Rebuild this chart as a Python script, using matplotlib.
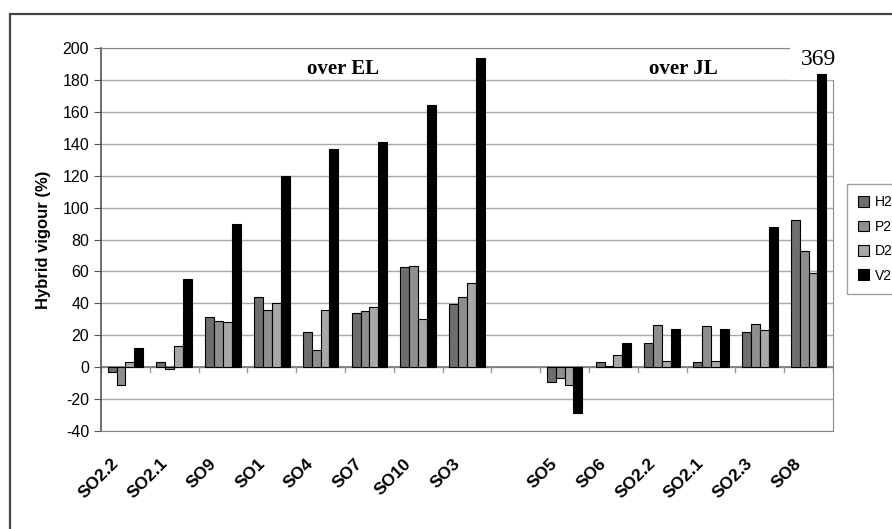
import matplotlib.pyplot as plt
import matplotlib.transforms as mtransforms
from matplotlib.patches import Rectangle
import numpy as np

plt.rcParams['font.family'] = ['Liberation Sans', 'DejaVu Sans']
plt.rcParams['axes.unicode_minus'] = False

# categories (blank slot separates the two groups)
lines = ['SO2.2', 'SO2.1', 'SO9', 'SO1', 'SO4', 'SO7', 'SO10', 'SO3', '',
         'SO5', 'SO6', 'SO2.2', 'SO2.1', 'SO2.3', 'SO8']

h2 = [-3, 3.5, 31.5, 44, 22, 34, 62.5, 39.5, np.nan, -9, 3, 15, 3.5, 22, 92]
p2 = [-11, -1, 29, 36, 11, 35.5, 63.5, 44, np.nan, -7, 1, 26.5, 25.5, 27, 73]
d2 = [3.5, 13, 28.5, 40, 36, 38, 30, 53, np.nan, -11, 7.5, 4, 4, 23, 59]
v2 = [12, 55, 90, 120, 136.5, 141, 164, 194, np.nan, -28.5, 15, 24, 24, 88, 369]
v2_cap = 184   # bars above the axis are drawn cut short, value written above

series = {'H2': h2, 'P2': p2, 'D2': d2, 'V2': v2}
colors = {'H2': '#6e6e6e', 'P2': '#8e8e8e', 'D2': '#a8a8a8', 'V2': '#000000'}

fig = plt.figure(figsize=(8.92, 5.29), dpi=100)
ax = fig.add_axes([101/892, 1 - 431/529, 732/892, 383/529])

x = np.arange(len(lines))
w = 1 / 5.5
for k, (name, vals) in enumerate(series.items()):
    vals = np.array(vals, dtype=float)
    shown = np.where(vals > 200, v2_cap, vals)
    ax.bar(x + (k - 1.5) * w, shown, width=w, color=colors[name],
           edgecolor='black', linewidth=0.8, label=name, zorder=3)

ax.set_xlim(-0.5, len(lines) - 0.5)
ax.set_ylim(-40, 200)
ax.set_yticks(np.arange(-40, 201, 20))
ax.tick_params(axis='y', labelsize=11.5, length=5, color='#555555')
ax.yaxis.grid(True, color='#a8a8a8', linewidth=1)
ax.set_axisbelow(True)
ax.set_ylabel('Hybrid vigour (%)', fontsize=12, fontweight='bold', labelpad=8)

# category axis runs along zero with ticks between categories
ax.axhline(0, color='#777777', linewidth=1.2, zorder=2)
for b in np.arange(-0.5, len(lines), 1.0):
    ax.plot([b, b], [0, -3], color='#999999', linewidth=1, zorder=2)

ax.set_xticks(x)
ax.set_xticklabels(lines, rotation=45, ha='right', va='top',
                   fontsize=12.5, fontweight='bold')
ax.tick_params(axis='x', length=0, pad=18)
offset = mtransforms.ScaledTranslation(-4/100, 0, fig.dpi_scale_trans)
for lab in ax.get_xticklabels():
    lab.set_transform(lab.get_transform() + offset)

for side in ['top', 'right', 'bottom']:
    ax.spines[side].set_color('#888888')
ax.spines['left'].set_color('#555555')
ax.spines['left'].set_linewidth(1.2)

fig.text(343/892, 1 - 69/529, 'over EL', family='Liberation Serif',
         fontweight='bold', fontsize=15, ha='center', va='center')
fig.text(683/892, 1 - 69/529, 'over JL', family='Liberation Serif',
         fontweight='bold', fontsize=15, ha='center', va='center')
# white box hides the frame around the value, sits under the bars
ax.text(x[-1] + 1.5 * w - 0.08, v2_cap + 2.5, '369', family='Liberation Serif',
        fontsize=17, ha='center', va='bottom', clip_on=False, zorder=2.8,
        bbox=dict(facecolor='white', edgecolor='none',
                  boxstyle='square,pad=0.45'))

ax.legend(loc='center left', bbox_to_anchor=(847/892, 1 - 239/529),
          bbox_transform=fig.transFigure, fontsize=10, frameon=True,
          fancybox=False, edgecolor='#888888', handlelength=0.8,
          handleheight=0.8, labelspacing=0.75, borderaxespad=0,
          borderpad=0.8, handletextpad=0.4)

fig.patches.append(Rectangle((10/892, -0.1), 1.2, 1 - 14/529 + 0.1,
                             transform=fig.transFigure, fill=False,
                             edgecolor='#444444', linewidth=1.6))

fig.savefig('out.png', dpi=100)
